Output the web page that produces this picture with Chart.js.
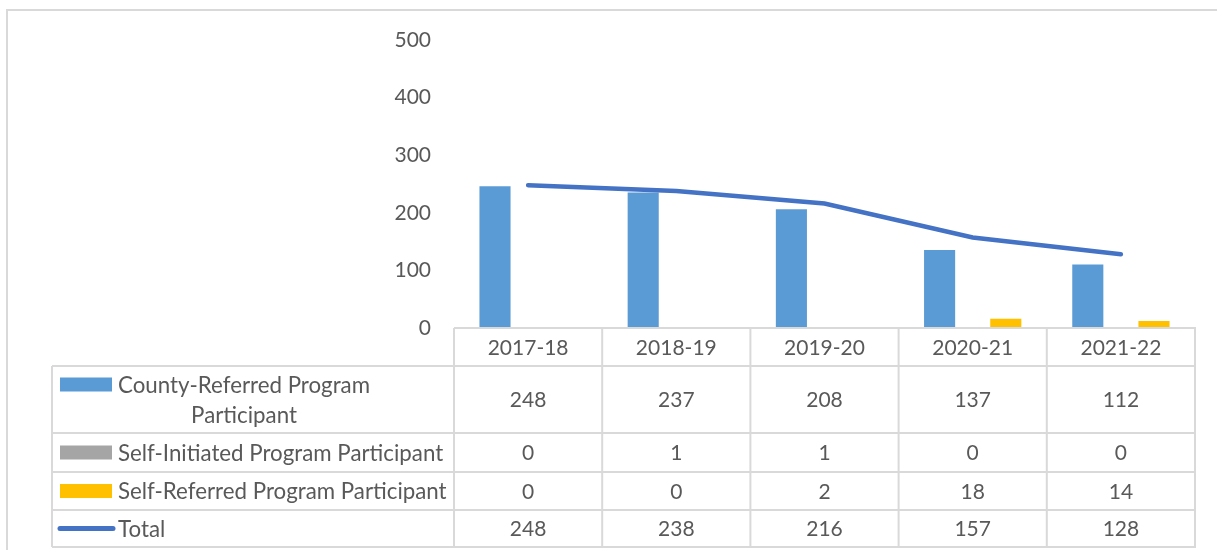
<!DOCTYPE html>
<html>
<head>
<meta charset="utf-8">
<script src="https://cdn.jsdelivr.net/npm/chart.js@4.4.0/dist/chart.umd.min.js"></script>
<style>
  body { margin: 0; background: #fff; }
  canvas { display: block; }
</style>
</head>
<body>
<canvas id="chart" width="1217" height="550"></canvas>
<script>
// Data
const categories = ['2017-18', '2018-19', '2019-20', '2020-21', '2021-22'];
const countyReferred = [248, 237, 208, 137, 112];
const selfInitiated = [0, 1, 1, 0, 0];
const selfReferred = [0, 0, 2, 18, 14];
const total = [248, 238, 216, 157, 128];
const yTicks = [0, 100, 200, 300, 400, 500];

const textColor = '#595959';
const gridColor = '#D9D9D9';
const font = 'Lato, "Noto Sans", sans-serif';
const fontSize = 21;
const labelSize = 22.3;

// Border round the whole chart
const borderPlugin = {
    id: 'outerBorder',
    beforeDraw(chart) {
        const ctx = chart.ctx;
        ctx.save();
        ctx.fillStyle = '#fff';
        ctx.fillRect(0, 0, chart.width, chart.height);
        ctx.strokeStyle = gridColor;
        ctx.lineWidth = 2;
        ctx.beginPath();
        ctx.moveTo(7, chart.height);
        ctx.lineTo(7, 10);
        ctx.lineTo(chart.width, 10);
        ctx.stroke();
        ctx.restore();
    }
};

// Data table under the plot
const tablePlugin = {
    id: 'dataTable',
    afterDraw(chart) {
        const ctx = chart.ctx;
        const area = chart.chartArea;
        const x = chart.scales.x;
        const n = categories.length;
        const colW = (area.right - area.left) / n;
        const rows = [area.bottom, 366, 433, 472, 510, 547];
        const legendLeft = 52;

        ctx.save();
        // grid
        ctx.strokeStyle = gridColor;
        ctx.lineWidth = 2;
        ctx.beginPath();
        ctx.moveTo(area.left, rows[0]);
        ctx.lineTo(area.right + 1, rows[0]);
        for (let r = 1; r < rows.length; r++) {
            ctx.moveTo(legendLeft, rows[r]);
            ctx.lineTo(area.right + 1, rows[r]);
        }
        ctx.moveTo(legendLeft, rows[1]);
        ctx.lineTo(legendLeft, rows[rows.length - 1]);
        for (let c = 0; c <= n; c++) {
            const cx = area.left + c * colW;
            ctx.moveTo(cx, rows[0]);
            ctx.lineTo(cx, rows[rows.length - 1]);
        }
        ctx.stroke();

        // header
        ctx.fillStyle = textColor;
        ctx.font = fontSize + 'px ' + font;
        ctx.textAlign = 'center';
        ctx.textBaseline = 'middle';
        const headY = (rows[0] + rows[1]) / 2;
        categories.forEach((c, i) => ctx.fillText(c, x.getPixelForValue(i), headY + 1));

        // rows
        chart.data.datasets.forEach((ds, r) => {
            const midY = (rows[r + 1] + rows[r + 2]) / 2 + 1;
            ctx.font = fontSize + 'px ' + font;
            ds.data.forEach((v, i) => ctx.fillText(String(v), x.getPixelForValue(i), midY));

            // legend label, wrapped if too long
            ctx.font = labelSize + 'px ' + font;
            const words = ds.label.split(' ');
            const lines = [];
            let cur = '';
            words.forEach(w => {
                const t = cur ? cur + ' ' + w : w;
                if (ctx.measureText(t).width > 345 && cur) { lines.push(cur); cur = w; }
                else cur = t;
            });
            lines.push(cur);
            const lh = 30;
            const firstY = midY - (lines.length - 1) * lh / 2;
            const textX = 118;
            const blockW = Math.max(...lines.map(l => ctx.measureText(l).width));
            ctx.textAlign = lines.length > 1 ? 'center' : 'left';
            lines.forEach((l, k) => {
                ctx.fillText(l, lines.length > 1 ? textX + blockW / 2 : textX, firstY + k * lh);
            });
            ctx.textAlign = 'center';

            // key
            if (ds.type === 'line') {
                ctx.strokeStyle = ds.borderColor;
                ctx.lineWidth = 5;
                ctx.lineCap = 'round';
                ctx.beginPath();
                ctx.moveTo(60, midY - 1);
                ctx.lineTo(113, midY - 1);
                ctx.stroke();
            } else {
                ctx.fillStyle = ds.backgroundColor;
                ctx.fillRect(60, firstY - 8, 52, 14);
                ctx.fillStyle = textColor;
            }
        });
        ctx.restore();
    }
};

new Chart(document.getElementById('chart'), {
    type: 'bar',
    data: {
        labels: categories,
        datasets: [
            { label: 'County-Referred Program Participant', data: countyReferred, backgroundColor: '#5B9BD5',
              borderColor: '#ffffff', borderWidth: 1, order: 1 },
            { label: 'Self-Initiated Program Participant', data: selfInitiated, backgroundColor: '#A5A5A5',
              borderColor: '#ffffff', borderWidth: 0, order: 1 },
            { label: 'Self-Referred Program Participant', data: selfReferred, backgroundColor: '#FFC000',
              borderColor: '#ffffff', borderWidth: 1, order: 1 },
            { type: 'line', label: 'Total', data: total, borderColor: '#4472C4', backgroundColor: '#4472C4',
              borderWidth: 4.5, borderCapStyle: 'round', pointRadius: 0, tension: 0, order: 0 }
        ]
    },
    options: {
        responsive: false,
        animation: false,
        layout: { padding: { left: 0, right: 22, top: 40, bottom: 222 } },
        datasets: { bar: { categoryPercentage: 0.67, barPercentage: 1.0 } },
        plugins: { legend: { display: false }, tooltip: { enabled: false } },
        scales: {
            x: { display: false },
            y: {
                min: yTicks[0],
                max: yTicks[yTicks.length - 1],
                afterFit(scale) { scale.width = 454; },
                afterBuildTicks(scale) { scale.ticks = yTicks.map(v => ({ value: v })); },
                grid: { display: false, drawTicks: false },
                border: { display: false },
                ticks: { color: textColor, padding: 23, font: { family: font, size: fontSize } }
            }
        }
    },
    plugins: [borderPlugin, tablePlugin]
});
</script>
</body>
</html>
